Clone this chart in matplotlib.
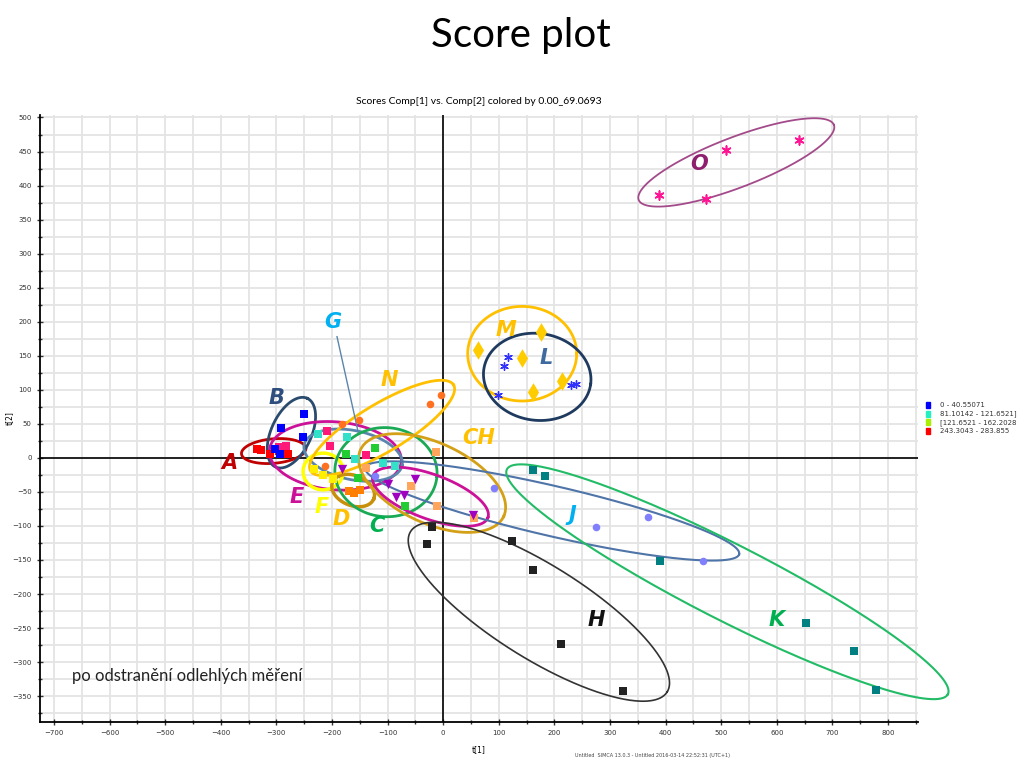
import numpy as np
import matplotlib
matplotlib.use("Agg")
import matplotlib.pyplot as plt
from matplotlib.ticker import MultipleLocator
from matplotlib.patches import Rectangle

# score points (t[1], t[2])
red_sq_x = [-335, -328, -311, -295, -279]
red_sq_y = [13, 12, 6, 10, 6]
pink_sq_x = [-295, -282, -209, -204, -139]
pink_sq_y = [16, 18, 40, 17, 4]
blue_sq_x = [-251, -292, -253, -302, -294]
blue_sq_y = [64, 44, 30, 13, 5]
cyan_sq_x = [-225, -173, -158, -108, -86]
cyan_sq_y = [35, 31, -2, -8, -12]
green_sq_x = [-174, -123, -153, -69]
green_sq_y = [6, 15, -30, -71]
orange_ci_x = [-182, -151, -212, -23, -4]
orange_ci_y = [50, 55, -12, 79, 92]
yellow_sq_x = [-233, -216, -199]
yellow_sq_y = [-17, -25, -31]
orange_sq_x = [-170, -160, -150]
orange_sq_y = [-48, -51, -47]
peach_sq_x = [-139, -58, -13, -11, 55]
peach_sq_y = [-15, -42, 9, -71, -88]
purple_tri_x = [-182, -100, -85, -71, -51, 53]
purple_tri_y = [-17, -39, -58, -54, -31, -84]
lav_ci_x = [-122, 92, 274, 369, 467]
lav_ci_y = [-26, -45, -102, -87, -151]
black_sq_x = [-20, -29, 124, 161, 212, 324]
black_sq_y = [-102, -126, -122, -165, -274, -342]
teal_sq_x = [161, 183, 389, 653, 739, 778]
teal_sq_y = [-18, -26, -151, -243, -283, -341]
blue_ast_x = [116, 110, 98, 230, 239]
blue_ast_y = [148, 135, 92, 107, 109]
gold_dia_x = [62, 176, 142, 161, 213]
gold_dia_y = [158, 185, 146, 97, 113]
mag_ast_x = [388, 509, 472, 640]
mag_ast_y = [386, 452, 380, 467]

legend_labels = ["0 - 40.55071", "81.10142 - 121.6521]", "[121.6521 - 162.2028", "243.3043 - 283.855"]
legend_colors = ["#0000ff", "#22f0c0", "#a8f000", "#ff0000"]

# hand drawn group ellipses: name, colour, centre x, centre y, semi axes (x units), angle
groups = ["A", "B", "E", "G", "F", "D", "C", "N", "CH", "C2", "J", "K", "H", "M", "L", "O"]
ell_col = ["#c00000", "#2a4a6e", "#cc1199", "#5a86ad", "#ffff00", "#c8900a", "#1aaa55",
           "#ffc000", "#d4a017", "#cc1199", "#4f74a8", "#22bb66", "#333333", "#ffc000",
           "#1f3a5f", "#a34a8a"]
ell_cx = [-305, -273, -194, -162, -216, -162, -103, -110, -20, -23, 196, 511, 172, 142, 169, 527]
ell_cy = [10, 37, 3, 4, -20, -48, -21, 44, -37, -57, -78, -182, -226, 153, 119, 434]
ell_a = [58, 68, 119, 90, 36, 40, 92, 150, 142, 110, 345, 445, 272, 98, 97, 188]
ell_b = [22, 36, 61, 44, 33, 27, 80, 43, 72, 40, 45, 68, 84, 85, 78, 45]
ell_ang = [5, 65, -5, -12, 0, -22, -5, 31, -25, -20, -13, -27, -32, 0, -8, 21]
ell_lw = [2, 2, 2, 2, 2.5, 2.5, 2, 2, 2, 2, 1.5, 1.5, 1.2, 2, 2, 1.3]

labels = ["A", "B", "E", "F", "D", "C", "G", "N", "CH", "M", "L", "O", "J", "H", "K"]
lab_col = ["#c00000", "#2e4f7e", "#cc1199", "#ffff00", "#ffc000", "#00b050", "#00b0f0",
           "#ffc000", "#ffc000", "#ffc000", "#3f6aa0", "#8e1e6e", "#00b0f0", "#111111", "#00b050"]
lab_x = [-385, -300, -264, -218, -183, -120, -198, -97, 63, 112, 185, 460, 232, 275, 599]
lab_y = [-7, 88, -57, -72, -90, -100, 200, 115, 29, 188, 147, 432, -84, -238, -238]

fig = plt.figure(figsize=(10.27, 7.6), dpi=100)
ax = fig.add_axes([0.039, 0.05, 0.855, 0.799])
ax.set_xlim(-725, 854)
ax.set_ylim(-388, 504)

ax.xaxis.set_major_locator(MultipleLocator(100))
ax.xaxis.set_minor_locator(MultipleLocator(50))
ax.yaxis.set_major_locator(MultipleLocator(50))
ax.yaxis.set_minor_locator(MultipleLocator(25))
ax.grid(True, which="both", color="#e4e4e4", lw=1.3, zorder=0)
ax.set_axisbelow(True)
ax.tick_params(which="both", direction="inout", labelsize=5, colors="#333333", length=5, width=1)
ax.tick_params(which="minor", length=3)
for s in ["top", "right"]:
    ax.spines[s].set_visible(False)
for s in ["left", "bottom"]:
    ax.spines[s].set_linewidth(1.3)
ax.axhline(0, color="black", lw=1.2, zorder=1)
ax.axvline(0, color="black", lw=1.2, zorder=1)
ax.set_xlabel("t[1]", fontsize=5.5, labelpad=6)
ax.set_ylabel("t[2]", fontsize=5.5)
ax.yaxis.set_label_coords(-0.03, 0.5)
ax.set_title("Scores Comp[1] vs. Comp[2] colored by 0.00_69.0693", fontsize=7.5,
             family="Lato", pad=8)

# ellipses drawn so that they look right on screen (y scaled like x)
k = (0.68 / 0.556)
t = np.linspace(0, 2 * np.pi, 300)
for i in range(len(groups)):
    th = np.radians(ell_ang[i])
    ex = ell_cx[i] + ell_a[i] * np.cos(t) * np.cos(th) - ell_b[i] * np.sin(t) * np.sin(th)
    ey = ell_cy[i] + (ell_a[i] * np.cos(t) * np.sin(th) + ell_b[i] * np.sin(t) * np.cos(th)) / k
    ax.plot(ex, ey, color=ell_col[i], lw=ell_lw[i], zorder=3, clip_on=False)

# G pointer line
ax.plot([-191, -153], [178, 38], color="#5a86ad", lw=1, zorder=3)

sq = dict(marker="s", s=34, linewidths=0, zorder=4)
ax.scatter(red_sq_x, red_sq_y, color="#ff0000", **sq)
ax.scatter(pink_sq_x, pink_sq_y, color="#ff1a7a", **sq)
ax.scatter(blue_sq_x, blue_sq_y, color="#0000ff", **sq)
ax.scatter(cyan_sq_x, cyan_sq_y, color="#33e0c8", **sq)
ax.scatter(green_sq_x, green_sq_y, color="#22cc33", **sq)
ax.scatter(yellow_sq_x, yellow_sq_y, color="#ffee00", **sq)
ax.scatter(orange_sq_x, orange_sq_y, color="#ff8000", **sq)
ax.scatter(peach_sq_x, peach_sq_y, color="#ffa65c", **sq)
ax.scatter(black_sq_x, black_sq_y, color="#222222", **sq)
ax.scatter(teal_sq_x, teal_sq_y, color="#008080", **sq)
ax.scatter(orange_ci_x, orange_ci_y, color="#ff7020", marker="o", s=30, linewidths=0, zorder=4)
ax.scatter(lav_ci_x, lav_ci_y, color="#8080ff", marker="o", s=30, linewidths=0, zorder=4)
ax.scatter(purple_tri_x, purple_tri_y, color="#a000c0", marker="v", s=45, linewidths=0, zorder=4)
ax.scatter(gold_dia_x, gold_dia_y, color="#ffcc00", marker="d", s=90, linewidths=0, zorder=4)
ax.scatter(blue_ast_x, blue_ast_y, color="#3030ff", marker=(6, 2, 0), s=30, linewidths=1, zorder=4)
ax.scatter(mag_ast_x, mag_ast_y, color="#ff1493", marker=(6, 2, 0), s=40, linewidths=1.2, zorder=4)

for i in range(len(labels)):
    ax.text(lab_x[i], lab_y[i], labels[i], color=lab_col[i], fontsize=15, fontweight="bold",
            style="italic", family="DejaVu Sans", ha="center", va="center", zorder=5)

ax.text(0.036, 0.076, "po odstranění odlehlých měření", transform=ax.transAxes,
        fontsize=12, family="Lato", color="#222222", va="center")

fig.text(0.507, 0.953, "Score plot", fontsize=29, family="Lato", ha="center", va="center")

for i, lab in enumerate(legend_labels):
    yy = 1 - (405 + 8.7 * i) / 760
    fig.add_artist(Rectangle((0.902, yy - 0.004), 0.0035, 0.008, color=legend_colors[i],
                             transform=fig.transFigure))
    fig.text(0.915, yy, lab, fontsize=5, va="center", color="#333333")

fig.text(0.56, 0.004, "Untitled  SIMCA 13.0.3 - Untitled 2016-03-14 22:52:31 (UTC+1)",
         fontsize=3.5, color="#444444")

fig.savefig("out.png", dpi=100)
